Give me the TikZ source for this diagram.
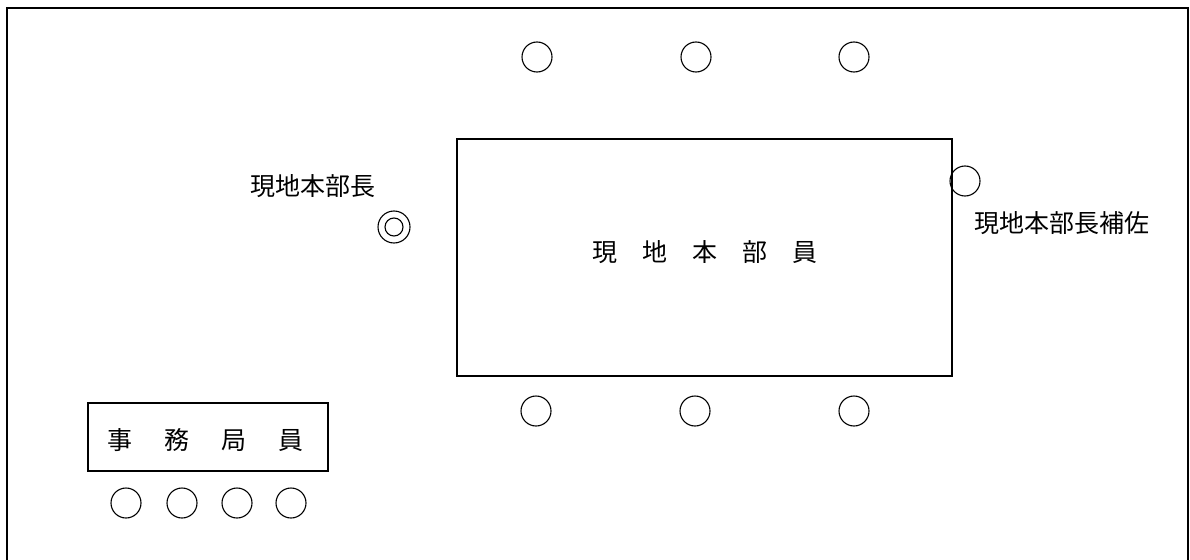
\documentclass[tikz,border=0pt]{standalone}
\usepackage{fontspec}
\newfontfamily\cjk{Noto Sans CJK JP}
\begin{document}
\begin{tikzpicture}[x=1pt,y=-1pt,
  seat/.style={circle,draw,line width=1.1pt,minimum size=30pt,inner sep=0pt},
  boxed/.style={draw,line width=1.6pt,inner sep=0pt},
  lbl/.style={font=\cjk\fontsize{25}{30}\selectfont,inner sep=0pt}]
\useasboundingbox (0,0) rectangle (1190,559);
\draw[line width=1.6pt] (7,562) -- (7,8) -- (1188,8) -- (1188,562);
% main table
\node[boxed,minimum width=495pt,minimum height=237pt] (hq) at (704.5,257.5) {};
\node[lbl] (hqtext) at (705,252) {現　地　本　部　員};
% top seats
\node[seat] (t1) at (537,57) {};
\node[seat] (t2) at (696,57) {};
\node[seat] (t3) at (854,57) {};
% bottom seats
\node[seat] (b1) at (536,411) {};
\node[seat] (b2) at (695,411) {};
\node[seat] (b3) at (854,411) {};
% chief
\node[lbl] (chieflbl) at (313,186) {現地本部長};
\node[circle,draw,line width=1.1pt,minimum size=32pt,inner sep=0pt] (chief) at (394,227) {};
\node[circle,draw,line width=1.1pt,minimum size=18pt,inner sep=0pt] (chiefin) at (394,227) {};
% assistant
\node[seat] (asst) at (965,181) {};
\node[lbl] (asstlbl) at (1062,223) {現地本部長補佐};
% secretariat
\node[boxed,minimum width=240pt,minimum height=68pt] (sec) at (208,437) {};
\node[lbl] (sectext) at (205.5,440) {事\hspace{32pt}務\hspace{32pt}局\hspace{32pt}員};
\node[seat] (s1) at (126,503) {};
\node[seat] (s2) at (182,503) {};
\node[seat] (s3) at (237,503) {};
\node[seat] (s4) at (291,503) {};
\end{tikzpicture}
\end{document}
